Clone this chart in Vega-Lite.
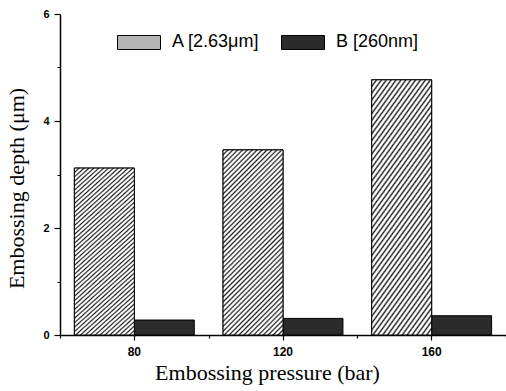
{
  "$schema": "https://vega.github.io/schema/vega-lite/v6.json",
  "autosize": {"type": "none"},
  "padding": {"left": 60, "top": 14, "right": 0, "bottom": 56},
  "width": 446,
  "height": 321,
  "background": "white",
  "data": {"values": [
    {"pressure": "80", "sample": "A [2.63μm]", "depth": 3.12},
    {"pressure": "80", "sample": "B [260nm]", "depth": 0.28},
    {"pressure": "120", "sample": "A [2.63μm]", "depth": 3.46},
    {"pressure": "120", "sample": "B [260nm]", "depth": 0.31},
    {"pressure": "160", "sample": "A [2.63μm]", "depth": 4.77},
    {"pressure": "160", "sample": "B [260nm]", "depth": 0.36}
  ]},
  "layer": [
    {
      "mark": {"type": "bar", "stroke": "black", "strokeWidth": 1},
      "encoding": {
        "x": {"field": "pressure", "type": "ordinal", "sort": ["80", "120", "160"],
          "scale": {"paddingInner": 0, "paddingOuter": 0},
          "axis": {"title": "Embossing pressure (bar)", "titleX": 207, "labelAngle": 0, "labelFont": "Liberation Sans", "labelFontWeight": "bold", "labelFontSize": 12, "labelColor": "black", "tickColor": "black", "tickSize": 5, "tickWidth": 1.2, "domainColor": "black", "domainWidth": 1.5, "labelPadding": 6, "titleFont": "Liberation Serif", "titleFontSize": 22, "titleFontWeight": "normal", "titleColor": "black", "titlePadding": 5}},
        "xOffset": {"field": "sample", "type": "nominal", "scale": {"paddingInner": 0, "paddingOuter": 0.24}},
        "y": {"field": "depth", "type": "quantitative", "scale": {"domain": [0, 6], "nice": false},
          "axis": {"values": [0, 2, 4, 6], "title": "Embossing depth (μm)", "titleY": 174, "labelFont": "Liberation Sans", "labelFontWeight": "bold", "labelFontSize": 11, "labelColor": "black", "tickColor": "black", "tickSize": 6, "tickWidth": 1.2, "domainColor": "black", "domainWidth": 1.5, "labelPadding": 5, "titleFont": "Liberation Serif", "titleFontSize": 22, "titleFontWeight": "normal", "titleColor": "black", "titlePadding": 14}},
        "fill": {"field": "sample", "type": "nominal",
          "scale": {"range": ["#b4b4b4", "#2b2b2b"]},
          "legend": {"title": null, "orient": "none", "legendX": 57, "legendY": 6, "direction": "horizontal", "symbolType": "M-1,-0.326H1V0.326H-1Z", "symbolSize": 1849, "symbolStrokeColor": "black", "symbolStrokeWidth": 1, "symbolOpacity": 1, "labelFont": "Liberation Sans", "labelFontSize": 18, "labelColor": "black", "labelOffset": 11, "columnPadding": 19, "padding": 0,
            "encode": {"symbols": {"update": {"stroke": {"value": "black"}, "strokeWidth": {"value": 1},
              "fill": {"value": {"expr": "datum.value === 'B [260nm]' ? '#2b2b2b' : {gradient: 'linear', x1: 0, y1: 0, x2: 1.198, y2: 0.391, stops: [{offset: 0, color: '#1e1e1e'}, {offset: 0.029, color: '#ffffff'}, {offset: 0.054, color: '#ffffff'}, {offset: 0.083, color: '#1e1e1e'}, {offset: 0.112, color: '#ffffff'}, {offset: 0.138, color: '#ffffff'}, {offset: 0.167, color: '#1e1e1e'}, {offset: 0.196, color: '#ffffff'}, {offset: 0.221, color: '#ffffff'}, {offset: 0.25, color: '#1e1e1e'}, {offset: 0.279, color: '#ffffff'}, {offset: 0.304, color: '#ffffff'}, {offset: 0.333, color: '#1e1e1e'}, {offset: 0.362, color: '#ffffff'}, {offset: 0.388, color: '#ffffff'}, {offset: 0.417, color: '#1e1e1e'}, {offset: 0.446, color: '#ffffff'}, {offset: 0.471, color: '#ffffff'}, {offset: 0.5, color: '#1e1e1e'}, {offset: 0.529, color: '#ffffff'}, {offset: 0.554, color: '#ffffff'}, {offset: 0.583, color: '#1e1e1e'}, {offset: 0.612, color: '#ffffff'}, {offset: 0.638, color: '#ffffff'}, {offset: 0.667, color: '#1e1e1e'}, {offset: 0.696, color: '#ffffff'}, {offset: 0.721, color: '#ffffff'}, {offset: 0.75, color: '#1e1e1e'}, {offset: 0.779, color: '#ffffff'}, {offset: 0.804, color: '#ffffff'}, {offset: 0.833, color: '#1e1e1e'}, {offset: 0.862, color: '#ffffff'}, {offset: 0.888, color: '#ffffff'}, {offset: 0.917, color: '#1e1e1e'}, {offset: 0.946, color: '#ffffff'}, {offset: 0.971, color: '#ffffff'}, {offset: 1, color: '#1e1e1e'}]}"}}}}}}}
      }
    },
    {
      "transform": [{"filter": "datum.sample === 'A [2.63μm]'"}],
      "mark": {"type": "bar", "stroke": "black", "strokeWidth": 1,
        "fill": {"gradient": "linear", "x1": 0, "y1": 0, "x2": 0.389, "y2": 1.198, "stops": [
          {"offset": 0, "color": "#1e1e1e"}, {"offset": 0.007, "color": "#ffffff"}, {"offset": 0.013, "color": "#ffffff"},
          {"offset": 0.02, "color": "#1e1e1e"}, {"offset": 0.027, "color": "#ffffff"}, {"offset": 0.033, "color": "#ffffff"},
          {"offset": 0.04, "color": "#1e1e1e"}, {"offset": 0.047, "color": "#ffffff"}, {"offset": 0.053, "color": "#ffffff"},
          {"offset": 0.06, "color": "#1e1e1e"}, {"offset": 0.067, "color": "#ffffff"}, {"offset": 0.073, "color": "#ffffff"},
          {"offset": 0.08, "color": "#1e1e1e"}, {"offset": 0.087, "color": "#ffffff"}, {"offset": 0.093, "color": "#ffffff"},
          {"offset": 0.1, "color": "#1e1e1e"}, {"offset": 0.107, "color": "#ffffff"}, {"offset": 0.113, "color": "#ffffff"},
          {"offset": 0.12, "color": "#1e1e1e"}, {"offset": 0.127, "color": "#ffffff"}, {"offset": 0.133, "color": "#ffffff"},
          {"offset": 0.14, "color": "#1e1e1e"}, {"offset": 0.147, "color": "#ffffff"}, {"offset": 0.153, "color": "#ffffff"},
          {"offset": 0.16, "color": "#1e1e1e"}, {"offset": 0.167, "color": "#ffffff"}, {"offset": 0.173, "color": "#ffffff"},
          {"offset": 0.18, "color": "#1e1e1e"}, {"offset": 0.187, "color": "#ffffff"}, {"offset": 0.193, "color": "#ffffff"},
          {"offset": 0.2, "color": "#1e1e1e"}, {"offset": 0.207, "color": "#ffffff"}, {"offset": 0.213, "color": "#ffffff"},
          {"offset": 0.22, "color": "#1e1e1e"}, {"offset": 0.227, "color": "#ffffff"}, {"offset": 0.233, "color": "#ffffff"},
          {"offset": 0.24, "color": "#1e1e1e"}, {"offset": 0.247, "color": "#ffffff"}, {"offset": 0.253, "color": "#ffffff"},
          {"offset": 0.26, "color": "#1e1e1e"}, {"offset": 0.267, "color": "#ffffff"}, {"offset": 0.273, "color": "#ffffff"},
          {"offset": 0.28, "color": "#1e1e1e"}, {"offset": 0.287, "color": "#ffffff"}, {"offset": 0.293, "color": "#ffffff"},
          {"offset": 0.3, "color": "#1e1e1e"}, {"offset": 0.307, "color": "#ffffff"}, {"offset": 0.313, "color": "#ffffff"},
          {"offset": 0.32, "color": "#1e1e1e"}, {"offset": 0.327, "color": "#ffffff"}, {"offset": 0.333, "color": "#ffffff"},
          {"offset": 0.34, "color": "#1e1e1e"}, {"offset": 0.347, "color": "#ffffff"}, {"offset": 0.353, "color": "#ffffff"},
          {"offset": 0.36, "color": "#1e1e1e"}, {"offset": 0.367, "color": "#ffffff"}, {"offset": 0.373, "color": "#ffffff"},
          {"offset": 0.38, "color": "#1e1e1e"}, {"offset": 0.387, "color": "#ffffff"}, {"offset": 0.393, "color": "#ffffff"},
          {"offset": 0.4, "color": "#1e1e1e"}, {"offset": 0.407, "color": "#ffffff"}, {"offset": 0.413, "color": "#ffffff"},
          {"offset": 0.42, "color": "#1e1e1e"}, {"offset": 0.427, "color": "#ffffff"}, {"offset": 0.433, "color": "#ffffff"},
          {"offset": 0.44, "color": "#1e1e1e"}, {"offset": 0.447, "color": "#ffffff"}, {"offset": 0.453, "color": "#ffffff"},
          {"offset": 0.46, "color": "#1e1e1e"}, {"offset": 0.467, "color": "#ffffff"}, {"offset": 0.473, "color": "#ffffff"},
          {"offset": 0.48, "color": "#1e1e1e"}, {"offset": 0.487, "color": "#ffffff"}, {"offset": 0.493, "color": "#ffffff"},
          {"offset": 0.5, "color": "#1e1e1e"}, {"offset": 0.507, "color": "#ffffff"}, {"offset": 0.513, "color": "#ffffff"},
          {"offset": 0.52, "color": "#1e1e1e"}, {"offset": 0.527, "color": "#ffffff"}, {"offset": 0.533, "color": "#ffffff"},
          {"offset": 0.54, "color": "#1e1e1e"}, {"offset": 0.547, "color": "#ffffff"}, {"offset": 0.553, "color": "#ffffff"},
          {"offset": 0.56, "color": "#1e1e1e"}, {"offset": 0.567, "color": "#ffffff"}, {"offset": 0.573, "color": "#ffffff"},
          {"offset": 0.58, "color": "#1e1e1e"}, {"offset": 0.587, "color": "#ffffff"}, {"offset": 0.593, "color": "#ffffff"},
          {"offset": 0.6, "color": "#1e1e1e"}, {"offset": 0.607, "color": "#ffffff"}, {"offset": 0.613, "color": "#ffffff"},
          {"offset": 0.62, "color": "#1e1e1e"}, {"offset": 0.627, "color": "#ffffff"}, {"offset": 0.633, "color": "#ffffff"},
          {"offset": 0.64, "color": "#1e1e1e"}, {"offset": 0.647, "color": "#ffffff"}, {"offset": 0.653, "color": "#ffffff"},
          {"offset": 0.66, "color": "#1e1e1e"}, {"offset": 0.667, "color": "#ffffff"}, {"offset": 0.673, "color": "#ffffff"},
          {"offset": 0.68, "color": "#1e1e1e"}, {"offset": 0.687, "color": "#ffffff"}, {"offset": 0.693, "color": "#ffffff"},
          {"offset": 0.7, "color": "#1e1e1e"}, {"offset": 0.707, "color": "#ffffff"}, {"offset": 0.713, "color": "#ffffff"},
          {"offset": 0.72, "color": "#1e1e1e"}, {"offset": 0.727, "color": "#ffffff"}, {"offset": 0.733, "color": "#ffffff"},
          {"offset": 0.74, "color": "#1e1e1e"}, {"offset": 0.747, "color": "#ffffff"}, {"offset": 0.753, "color": "#ffffff"},
          {"offset": 0.76, "color": "#1e1e1e"}, {"offset": 0.767, "color": "#ffffff"}, {"offset": 0.773, "color": "#ffffff"},
          {"offset": 0.78, "color": "#1e1e1e"}, {"offset": 0.787, "color": "#ffffff"}, {"offset": 0.793, "color": "#ffffff"},
          {"offset": 0.8, "color": "#1e1e1e"}, {"offset": 0.807, "color": "#ffffff"}, {"offset": 0.813, "color": "#ffffff"},
          {"offset": 0.82, "color": "#1e1e1e"}, {"offset": 0.827, "color": "#ffffff"}, {"offset": 0.833, "color": "#ffffff"},
          {"offset": 0.84, "color": "#1e1e1e"}, {"offset": 0.847, "color": "#ffffff"}, {"offset": 0.853, "color": "#ffffff"},
          {"offset": 0.86, "color": "#1e1e1e"}, {"offset": 0.867, "color": "#ffffff"}, {"offset": 0.873, "color": "#ffffff"},
          {"offset": 0.88, "color": "#1e1e1e"}, {"offset": 0.887, "color": "#ffffff"}, {"offset": 0.893, "color": "#ffffff"},
          {"offset": 0.9, "color": "#1e1e1e"}, {"offset": 0.907, "color": "#ffffff"}, {"offset": 0.913, "color": "#ffffff"},
          {"offset": 0.92, "color": "#1e1e1e"}, {"offset": 0.927, "color": "#ffffff"}, {"offset": 0.933, "color": "#ffffff"},
          {"offset": 0.94, "color": "#1e1e1e"}, {"offset": 0.947, "color": "#ffffff"}, {"offset": 0.953, "color": "#ffffff"},
          {"offset": 0.96, "color": "#1e1e1e"}, {"offset": 0.967, "color": "#ffffff"}, {"offset": 0.973, "color": "#ffffff"},
          {"offset": 0.98, "color": "#1e1e1e"}, {"offset": 0.987, "color": "#ffffff"}, {"offset": 0.993, "color": "#ffffff"},
          {"offset": 1, "color": "#1e1e1e"}
        ]}},
      "encoding": {
        "x": {"field": "pressure", "type": "ordinal", "sort": ["80", "120", "160"],
          "scale": {"paddingInner": 0, "paddingOuter": 0},
          "axis": {"title": null, "orient": "bottom", "labels": false, "domain": false, "tickBand": "extent", "tickColor": "black", "tickSize": 3, "tickWidth": 1.2}},
        "xOffset": {"field": "sample", "type": "nominal", "scale": {"paddingInner": 0, "paddingOuter": 0.24}},
        "y": {"field": "depth", "type": "quantitative", "scale": {"domain": [0, 6], "nice": false},
          "axis": {"title": null, "orient": "left", "values": [1, 3, 5], "labels": false, "domain": false, "tickColor": "black", "tickSize": 3, "tickWidth": 1}}
      }
    }
  ],
  "resolve": {"axis": {"x": "independent", "y": "independent"}},
  "config": {"view": {"stroke": null}, "axis": {"grid": false}}
}
